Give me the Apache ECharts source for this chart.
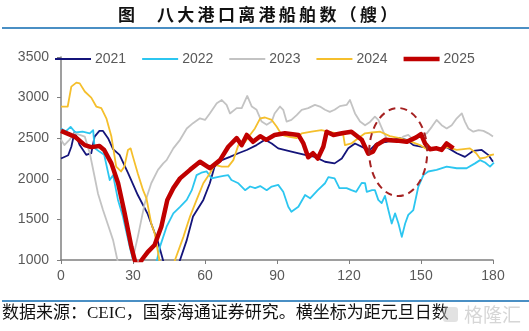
<!DOCTYPE html>
<html><head><meta charset="utf-8">
<script src="https://cdn.jsdelivr.net/npm/echarts@6/dist/echarts.min.js"></script>
<style>html,body{margin:0;padding:0;background:#fff}#c{width:529px;height:331px}</style>
</head><body><div id="c"></div>
<script>
// ---- data: [day since Jan 1, number of departing ships] ----
const seriesNames = ['2021', '2022', '2023', '2024', '2025'];

const d2021 = [[0,2250],[3,2290],[4.3,2395],[5.7,2580],[7.8,2415],[10.5,2295],[12.6,2315],[14,2520],[16,2590],[17.5,2590],[19.6,2500],[21.7,2365],[24.4,2295],[28,2067],[32,1800],[36,1575],[40.4,1225],[42.5,1000],[44,850],[48,850],[49.6,1000],[52.4,1245],[55,1535],[59.3,1740],[62,1945],[64,2150],[67,2230],[70.4,2270],[73.9,2315],[77.4,2355],[81.5,2415],[85,2480],[87.8,2435],[90.5,2375],[96,2335],[101.7,2295],[105.8,2270],[110,2210],[114,2190],[117,2250],[119.7,2375],[122.5,2435],[126.7,2375],[128.75,2355],[131.5,2435],[135.7,2455],[141,2500],[144,2480],[146.8,2415],[151,2390],[156.5,2375],[160.7,2390],[164.9,2315],[168.3,2270],[171.8,2345],[175.3,2355],[178,2295],[180,2210]];

const d2022 = [[0,2620],[2,2585],[4,2640],[6,2570],[9,2580],[12,2560],[13.4,2600],[14,2380],[16,2335],[18,2295],[20.3,1985],[21.7,2045],[23.75,1740],[25.8,1535],[28.6,1165],[30,1000],[32,850],[38,850],[40,1000],[41.25,1165],[44,1410],[46.8,1575],[49.6,1655],[52.4,1740],[54.5,1860],[56.5,2045],[58.5,2075],[60.7,2090],[62.8,2005],[65.6,2025],[67.7,2035],[69.7,2045],[71,1985],[73.9,1945],[76.7,1860],[78.8,1905],[80.9,1885],[83,1910],[85.7,1860],[87.8,1905],[90.5,1925],[92.6,1840],[94.7,1655],[96,1595],[98.9,1655],[101.7,1800],[103.8,1760],[107,1860],[110,1945],[111.4,2020],[114,2005],[116,1885],[119,1885],[121,1860],[123,1840],[125.3,1950],[126.7,1945],[127.4,1840],[129.6,1860],[130.8,1860],[132.2,1740],[133.6,1700],[135,1790],[136.4,1615],[137.8,1450],[139.2,1575],[140.6,1450],[142,1285],[143.4,1450],[144.7,1555],[146.8,1615],[148.9,1905],[151,2045],[153,2090],[156.5,2110],[160.7,2150],[164.9,2130],[169,2130],[172.5,2190],[174.6,2230],[176.7,2200],[178.75,2150],[180.4,2200]];

const d2023 = [[0,2480],[1.4,2415],[3.5,2480],[5.7,2560],[7.8,2540],[9.9,2520],[12,2315],[14,2025],[15.4,1820],[17.5,1615],[19.6,1430],[21.7,1245],[23.5,1000],[25,850],[28,850],[29.8,1000],[32,1285],[34.9,1700],[37.6,1945],[40.4,2110],[42.6,2190],[44,2230],[46.8,2375],[49.6,2480],[52.4,2620],[55,2685],[57.9,2745],[60,2725],[62,2805],[64.9,2930],[67,2970],[69,2910],[70.4,2805],[73.2,2870],[75.3,2870],[77.6,3020],[79.5,2890],[81.5,2850],[83.6,2705],[85.7,2665],[87.8,2705],[89,2805],[91.25,2890],[92.6,2850],[94,2705],[96,2725],[98.2,2785],[100.3,2850],[103,2870],[105.8,2910],[107.9,2890],[110,2850],[112,2825],[114,2850],[116.2,2895],[119,2910],[120.4,2970],[122.5,2805],[124.6,2705],[126.7,2660],[128.75,2700],[130.8,2765],[132.2,2725],[134.3,2580],[136.4,2455],[140,2455],[142.6,2520],[144.7,2540],[146.8,2480],[148.9,2520],[152.4,2560],[154.5,2640],[156.5,2725],[158.6,2660],[160.7,2620],[162.8,2660],[164.9,2745],[167,2805],[168.3,2705],[169.7,2620],[171.8,2580],[174,2600],[176,2590],[178,2560],[180,2520]];

const d2024 = [[0,2890],[2.8,2890],[4.3,3135],[6.4,3185],[7.8,3175],[9.9,3075],[12.6,3000],[14.7,2890],[16.8,2870],[18.9,2745],[21,2520],[23,2150],[25,2090],[26.4,2150],[27.9,2355],[29,2375],[30,2270],[32,2065],[34.2,1860],[35.6,1760],[37.6,1450],[39,1330],[41,1000],[42.5,850],[46,850],[47.5,1000],[51,1285],[53.75,1535],[56.5,1740],[59.3,1945],[62,2065],[64,2170],[67,2150],[69.7,2150],[71.8,2230],[73.9,2415],[76.7,2455],[78.75,2540],[80.8,2620],[83,2745],[85,2755],[87.8,2725],[89.9,2640],[92,2540],[94.7,2520],[98.2,2500],[100.3,2560],[104.4,2580],[108.5,2600],[111.4,2580],[114.8,2560],[117.6,2540],[118.3,2415],[121,2435],[123.8,2500],[126.7,2560],[129.6,2570],[133,2580],[137,2525],[141,2500],[146,2455],[149.6,2415],[152.4,2365],[156.5,2365],[160.7,2390],[164.9,2355],[167.7,2365],[170.4,2375],[173,2315],[174.6,2250],[176.7,2260],[178.75,2290],[180.4,2300]];

const d2025 = [[0,2590],[5.7,2520],[9.9,2415],[12.6,2390],[16,2405],[18,2355],[21,2190],[23.8,1945],[26.5,1580],[29.3,1165],[30.7,1000],[32,900],[33.6,1000],[36.2,1100],[39,1185],[41.8,1410],[44.3,1740],[46.8,1885],[49.6,2005],[53.75,2110],[57.9,2210],[62,2130],[66.25,2230],[69.7,2395],[73.2,2500],[75.3,2415],[77.4,2540],[80,2455],[83,2525],[85.5,2480],[89,2540],[93.3,2560],[98.9,2540],[101,2435],[103,2265],[105,2315],[107,2250],[109.3,2395],[110.7,2580],[113.5,2540],[117,2560],[121,2580],[125.3,2480],[128,2310],[130,2335],[131.5,2415],[135,2480],[140,2470],[144,2455],[148,2510],[150,2550],[151.7,2435],[153.75,2365],[156.5,2375],[158.6,2355],[160.7,2435],[163.5,2375]];

const xTicks = [0, 30, 60, 90, 120, 150, 180];
const yTicks = [1000, 1500, 2000, 2500, 3000, 3500];
const ellipseCenter = [140.5, 2330];   // highlighted region (day, ships)

const titleMark = '图';
const titleText = '八大港口离港船舶数（艘）';
const sourceText = '数据来源：CEIC，国泰海通证券研究。横坐标为距元旦日数';
const watermark = '格隆汇';

// ---- chart ----
const colors = ['#14147a', '#2cc6f0', '#c3c3c3', '#f5bf2c', '#c00000'];
const widths = [1.8, 1.8, 1.8, 1.8, 4.5];
const allData = [d2021, d2022, d2023, d2024, d2025];
const thinIcon = 'path://M0,0 M0,6.1 L36,6.1 L36,7.9 L0,7.9 Z M36,14';
const thickIcon = 'path://M0,0 M0,4.7 L36,4.7 L36,9.3 L0,9.3 Z M36,14';

const chart = echarts.init(document.getElementById('c'), null, {renderer: 'canvas'});
const font = 'Liberation Sans, Arial, sans-serif';

chart.setOption({
  animation: false,
  backgroundColor: '#fff',
  grid: {left: 61, right: 36, top: 57, bottom: 71},
  legend: {
    left: 55, top: 52, padding: 0, itemWidth: 36, itemHeight: 14, itemGap: 16,
    data: seriesNames.map((n, i) => ({name: n, icon: i === 4 ? thickIcon : thinIcon})),
    textStyle: {fontFamily: font, fontSize: 14, color: '#595959', padding: [0, 0, 0, -1]}
  },
  xAxis: {
    type: 'value', min: xTicks[0], max: xTicks[xTicks.length-1], interval: xTicks[1]-xTicks[0],
    axisLine: {lineStyle: {color: '#7f7f7f', width: 1.5}},
    axisTick: {show: true, length: 4, lineStyle: {color: '#7f7f7f'}},
    axisLabel: {fontFamily: font, fontSize: 14, color: '#595959', margin: 9},
    splitLine: {show: false}
  },
  yAxis: {
    type: 'value', min: yTicks[0], max: yTicks[yTicks.length-1], interval: yTicks[1]-yTicks[0],
    axisLine: {show: true, lineStyle: {color: '#7f7f7f', width: 1.5}},
    axisTick: {show: true, length: 4, lineStyle: {color: '#7f7f7f'}},
    axisLabel: {fontFamily: font, fontSize: 14, color: '#595959', margin: 12, formatter: v => String(v)},
    splitLine: {show: false}
  },
  series: seriesNames.map((n, i) => ({
    name: n, type: 'line', data: allData[i], symbol: 'none', showSymbol: false,
    clip: true, z: 2 + i,
    lineStyle: {color: colors[i], width: widths[i], join: 'round'},
    itemStyle: {color: colors[i]}
  }))
});

const c = chart.convertToPixel({xAxisIndex: 0, yAxisIndex: 0}, ellipseCenter);
const graphics = [
  {type: 'line', shape: {x1: 2, y1: 28, x2: 529, y2: 28}, style: {stroke: '#4a8fc4', lineWidth: 2}},
  {type: 'line', shape: {x1: 2, y1: 301, x2: 529, y2: 301}, style: {stroke: '#4a8fc4', lineWidth: 2}},
  {type: 'text', left: 118, top: 6, style: {text: titleMark, font: 'bold 17px "Noto Sans CJK SC"', fill: '#111'}},
  {type: 'text', left: 2, top: 305, style: {text: sourceText, font: '17px "Liberation Serif", "Noto Sans CJK SC"', fill: '#111'}},
  {type: 'rect', shape: {x: 443, y: 307, width: 15, height: 15, r: 3}, style: {fill: 'rgba(190,190,190,0.45)'}},
  {type: 'text', left: 464, top: 305, style: {text: watermark, font: '19px "Noto Sans CJK SC"', fill: '#d6d6d6'}},
  {type: 'ellipse', z: 50, shape: {cx: c[0], cy: c[1], rx: 29, ry: 44},
   style: {fill: 'none', stroke: '#a52222', lineWidth: 2, lineDash: [7, 5]}}
];
titleText.split('').forEach((ch, k) => {
  graphics.push({type: 'text', left: 157 + k * 20.3, top: 6,
    style: {text: ch, font: 'bold 17px "Noto Sans CJK SC"', fill: '#111'}});
});
chart.setOption({graphic: graphics});
</script>
</body></html>
